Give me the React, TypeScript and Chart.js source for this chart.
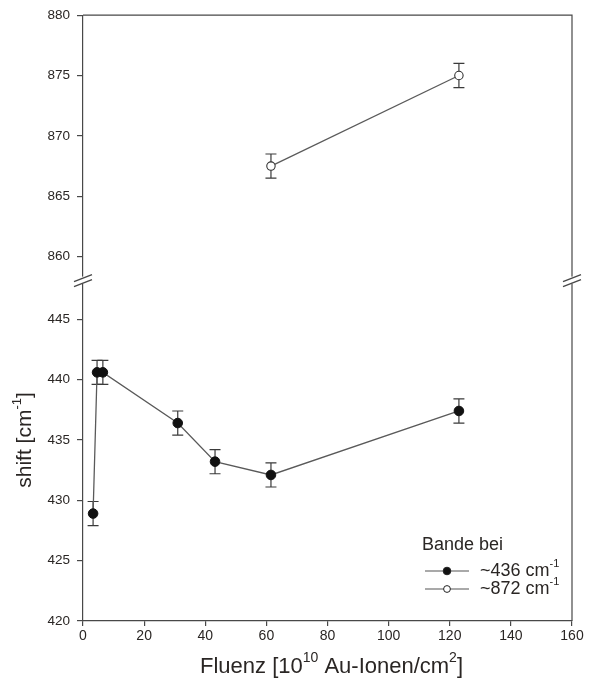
import React, { useEffect, useRef } from 'react';
import { Chart, registerables } from 'chart.js';
Chart.register(...registerables);

const xLow = [3.3, 4.6, 6.5, 31, 43.2, 61.5, 123];
const yLow = [428.9, 440.6, 440.6, 436.4, 433.2, 432.1, 437.4];
const errLow = [1, 1, 1, 1, 1, 1, 1];
const xHigh = [61.5, 123];
const yHigh = [867.5, 875];
const errHigh = [1, 1];
const xTicks = [0, 20, 40, 60, 80, 100, 120, 140, 160];
const yLowTicks = [420, 425, 430, 435, 440, 445];
const yHighTicks = [860, 865, 870, 875, 880];
const legendTitle = 'Bande bei';
const seriesLabels = ['~436 cm', '~872 cm'];
const seriesSup = ['-1', '-1'];

const FONT = '"Liberation Sans", Arial, sans-serif';
const AXIS = '#484848';
const TEXT = '#2a2624';

type Part = { t: string; sup?: boolean };

function richWidth(ctx: CanvasRenderingContext2D, parts: Part[], size: number, ratio: number) {
  let w = 0;
  for (const p of parts) {
    ctx.font = `${p.sup ? Math.round(size * ratio) : size}px ${FONT}`;
    w += ctx.measureText(p.t).width;
  }
  return w;
}

function drawRich(ctx: CanvasRenderingContext2D, parts: Part[], x: number, y: number, size: number, align: 'left' | 'center', ratio = 0.6) {
  const total = richWidth(ctx, parts, size, ratio);
  let cx = align === 'center' ? x - total / 2 : x;
  ctx.textBaseline = 'middle';
  ctx.textAlign = 'left';
  for (const p of parts) {
    const s = p.sup ? Math.round(size * ratio) : size;
    ctx.font = `${s}px ${FONT}`;
    ctx.fillText(p.t, cx, p.sup ? y - size * 0.38 : y);
    cx += ctx.measureText(p.t).width;
  }
}

const errorBars = {
  id: 'errorBars',
  beforeDatasetsDraw(chart: any) {
    const ctx = chart.ctx;
    ctx.save();
    ctx.strokeStyle = '#3a3a3a';
    ctx.lineWidth = 1.2;
    chart.data.datasets.forEach((ds: any, i: number) => {
      const meta = chart.getDatasetMeta(i);
      const ys = chart.scales[meta.yAxisID];
      meta.data.forEach((el: any, j: number) => {
        const v = ds.data[j].y;
        const e = ds.errors[j];
        const x = el.x;
        const t = ys.getPixelForValue(v + e);
        const b = ys.getPixelForValue(v - e);
        ctx.beginPath();
        ctx.moveTo(x, t); ctx.lineTo(x, b);
        ctx.moveTo(x - 5.5, t); ctx.lineTo(x + 5.5, t);
        ctx.moveTo(x - 5.5, b); ctx.lineTo(x + 5.5, b);
        ctx.stroke();
      });
    });
    ctx.restore();
  },
};

const decorations = {
  id: 'decorations',
  afterDraw(chart: any) {
    const ctx = chart.ctx;
    const { left, right, top, bottom } = chart.chartArea;
    const brk = chart.scales.yHigh.bottom;
    ctx.save();
    // frame
    ctx.strokeStyle = AXIS;
    ctx.lineWidth = 1.2;
    ctx.beginPath();
    ctx.moveTo(left, top); ctx.lineTo(right, top); ctx.lineTo(right, bottom);
    ctx.stroke();
    // breaks
    for (const bx of [left, right]) {
      ctx.fillStyle = '#fff';
      ctx.fillRect(bx - 3, brk - 4, 6, 7);
      ctx.lineWidth = 1.4;
      ctx.beginPath();
      ctx.moveTo(bx - 9, brk + 1); ctx.lineTo(bx + 9, brk - 6);
      ctx.moveTo(bx - 9, brk + 6); ctx.lineTo(bx + 9, brk - 1);
      ctx.stroke();
    }
    // titles
    ctx.fillStyle = TEXT;
    drawRich(ctx, [{ t: 'Fluenz [10' }, { t: '10', sup: true }, { t: ' Au-Ionen/cm' }, { t: '2', sup: true }, { t: ']' }], (left + right) / 2 + 4, 667, 22, 'center', 0.62);
    ctx.save();
    ctx.translate(25, 440);
    ctx.rotate(-Math.PI / 2);
    drawRich(ctx, [{ t: 'shift [cm' }, { t: '-1', sup: true }, { t: ']' }], 0, 0, 21, 'center');
    ctx.restore();
    // legend
    ctx.font = `18px ${FONT}`;
    ctx.textBaseline = 'middle';
    ctx.fillText(legendTitle, 422, 545);
    const rows = [571, 589];
    rows.forEach((ry, i) => {
      ctx.strokeStyle = '#555';
      ctx.lineWidth = 1.2;
      ctx.beginPath();
      ctx.moveTo(425, ry); ctx.lineTo(469, ry);
      ctx.stroke();
      ctx.beginPath();
      ctx.arc(447, ry, i === 0 ? 3.8 : 3.4, 0, Math.PI * 2);
      ctx.fillStyle = i === 0 ? '#111' : '#fff';
      ctx.fill();
      ctx.strokeStyle = '#222';
      ctx.lineWidth = 1;
      ctx.stroke();
      ctx.fillStyle = TEXT;
      drawRich(ctx, [{ t: seriesLabels[i] }, { t: seriesSup[i], sup: true }], 480, ry, 18, 'left');
    });
    ctx.restore();
  },
};

export default function App() {
  const ref = useRef<HTMLCanvasElement | null>(null);
  useEffect(() => {
    if (!ref.current) return;
    const yFont = { family: FONT, size: 13.5 };
    const xFont = { family: FONT, size: 14 };
    const chart = new Chart(ref.current, {
      type: 'scatter',
      data: {
        datasets: [
          {
            label: seriesLabels[0],
            data: xLow.map((x, i) => ({ x, y: yLow[i] })),
            errors: errLow,
            yAxisID: 'yLow',
            showLine: true,
            borderColor: '#5a5a5a',
            borderWidth: 1.3,
            pointRadius: 4.8,
            pointBackgroundColor: '#111',
            pointBorderColor: '#111',
            pointBorderWidth: 1,
          } as any,
          {
            label: seriesLabels[1],
            data: xHigh.map((x, i) => ({ x, y: yHigh[i] })),
            errors: errHigh,
            yAxisID: 'yHigh',
            showLine: true,
            borderColor: '#5a5a5a',
            borderWidth: 1.3,
            pointRadius: 4.2,
            pointBackgroundColor: '#fff',
            pointBorderColor: '#333',
            pointBorderWidth: 1.1,
          } as any,
        ],
      },
      options: {
        responsive: false,
        animation: false,
        layout: { padding: { left: 0, top: 14, right: 25, bottom: 0 } },
        plugins: { legend: { display: false }, tooltip: { enabled: false } },
        scales: {
          x: {
            type: 'linear',
            min: 0,
            max: 160,
            afterBuildTicks: (s: any) => { s.ticks = xTicks.map((v) => ({ value: v })); },
            afterFit: (s: any) => { s.height = 72; },
            ticks: { font: xFont, color: TEXT, padding: 2, maxRotation: 0 },
            grid: { drawOnChartArea: false, tickLength: 5, color: AXIS, lineWidth: 1.2 },
            border: { color: AXIS, width: 1.2 },
          },
          yLow: {
            type: 'linear',
            position: 'left',
            stack: 'y',
            stackWeight: 341,
            weight: 1,
            min: 420,
            max: 448.2,
            afterBuildTicks: (s: any) => { s.ticks = yLowTicks.map((v) => ({ value: v })); },
            afterFit: (s: any) => { s.width = 83; },
            ticks: { font: yFont, color: TEXT, padding: 7 },
            grid: { drawOnChartArea: false, tickLength: 6, color: AXIS, lineWidth: 1.2 },
            border: { color: AXIS, width: 1.2 },
          },
          yHigh: {
            type: 'linear',
            position: 'left',
            stack: 'y',
            stackWeight: 266,
            weight: 2,
            min: 858.02,
            max: 880,
            afterBuildTicks: (s: any) => { s.ticks = yHighTicks.map((v) => ({ value: v })); },
            afterFit: (s: any) => { s.width = 83; },
            ticks: { font: yFont, color: TEXT, padding: 7 },
            grid: { drawOnChartArea: false, tickLength: 6, color: AXIS, lineWidth: 1.2 },
            border: { color: AXIS, width: 1.2 },
          },
        },
      } as any,
      plugins: [errorBars, decorations],
    });
    return () => chart.destroy();
  }, []);
  return (
    <div style={{ position: 'fixed', left: 0, top: 0, width: 597, height: 693, background: '#fff' }}>
      <canvas ref={ref} width={597} height={693} style={{ display: 'block' }} />
    </div>
  );
}
